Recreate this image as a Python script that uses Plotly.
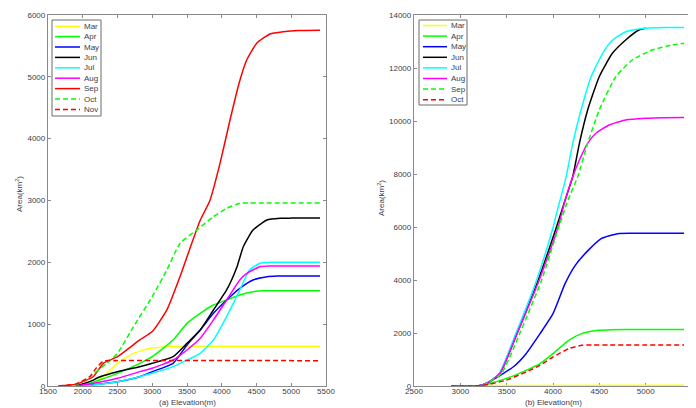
import plotly.graph_objects as go

# ---------------- data: panel (a) ----------------
months_a = ["Mar", "Apr", "May", "Jun", "Jul", "Aug", "Sep", "Oct", "Nov"]

elev_a_mar = [1900, 2100, 2200, 2344, 2500, 2730, 2970, 3210, 3400, 3600, 5414]
area_a_mar = [0, 20, 80, 205, 367, 528, 609, 636, 642, 642, 642]

elev_a_apr = [1900, 2104, 2300, 2500, 2820, 3000, 3300, 3500, 3690, 3880, 4070, 4260, 4450, 4600, 4800, 5414]
area_a_apr = [0, 43, 120, 205, 367, 474, 744, 1013, 1175, 1310, 1391, 1472, 1525, 1540, 1542, 1542]

elev_a_may = [1900, 2100, 2500, 2820, 3000, 3300, 3500, 3690, 3880, 4070, 4260, 4450, 4650, 4800, 5000, 5414]
area_a_may = [0, 16, 70, 151, 232, 367, 663, 906, 1175, 1391, 1580, 1714, 1768, 1779, 1780, 1780]

elev_a_jun = [1900, 2100, 2250, 2500, 2820, 3000, 3300, 3500, 3690, 3880, 4070, 4220, 4310, 4450, 4650, 4840, 5000, 5414]
area_a_jun = [0, 70, 150, 232, 313, 367, 474, 690, 906, 1229, 1553, 1930, 2253, 2523, 2685, 2712, 2715, 2715]

elev_a_jul = [1950, 2150, 2500, 2820, 3000, 3300, 3500, 3690, 3880, 4070, 4260, 4400, 4550, 4700, 4900, 5414]
area_a_jul = [0, 16, 70, 151, 205, 313, 420, 528, 744, 1121, 1553, 1876, 1984, 2000, 2000, 2000]

elev_a_aug = [1900, 2100, 2500, 2820, 3000, 3300, 3500, 3690, 3880, 4070, 4260, 4360, 4550, 4700, 4900, 5414]
area_a_aug = [0, 32, 124, 232, 286, 420, 582, 771, 1067, 1391, 1714, 1822, 1930, 1941, 1941, 1941]

elev_a_sep = [1650, 1900, 2150, 2300, 2500, 2820, 3000, 3210, 3400, 3500, 3690, 3830, 3975, 4119, 4250, 4359, 4503, 4694, 4886, 5100, 5414]
area_a_sep = [0, 30, 150, 370, 475, 745, 880, 1230, 1770, 2090, 2680, 3000, 3600, 4302, 4900, 5272, 5543, 5693, 5730, 5750, 5755]

elev_a_oct = [1650, 1900, 2100, 2344, 2500, 2730, 3000, 3210, 3400, 3640, 3880, 4070, 4260, 4400, 4600, 5414]
area_a_oct = [0, 20, 150, 367, 528, 960, 1445, 1876, 2307, 2523, 2739, 2873, 2954, 2960, 2960, 2960]

elev_a_nov = [1650, 1900, 2100, 2200, 2300, 2450, 5414]
area_a_nov = [0, 30, 150, 300, 405, 410, 410]

# ---------------- data: panel (b) ----------------
months_b = ["Mar", "Apr", "May", "Jun", "Jul", "Aug", "Sep", "Oct"]

elev_b_mar = [2900, 3300, 5414]
area_b_mar = [0, 20, 25]

elev_b_apr = [2900, 3200, 3310, 3490, 3710, 3860, 4000, 4170, 4310, 4490, 4630, 4800, 5414]
area_b_apr = [0, 10, 88, 277, 591, 843, 1220, 1723, 1975, 2101, 2126, 2130, 2130]

elev_b_may = [2900, 3200, 3310, 3430, 3570, 3710, 3860, 4000, 4130, 4240, 4380, 4520, 4700, 4900, 5414]
area_b_may = [0, 10, 151, 402, 717, 1220, 1975, 2730, 3862, 4553, 5119, 5560, 5749, 5760, 5760]

elev_b_jun = [2900, 3200, 3310, 3428, 3613, 3838, 4035, 4120, 4213, 4285, 4374, 4499, 4641, 4784, 4927, 4998]
area_b_jun = [0, 10, 150, 478, 1989, 3975, 5974, 6900, 7899, 9159, 10415, 11672, 12554, 13057, 13435, 13497]

elev_b_jul = [2900, 3200, 3310, 3420, 3600, 3821, 4000, 4060, 4142, 4213, 4303, 4411, 4536, 4643, 4786, 5000, 5200, 5414]
area_b_jul = [0, 10, 150, 478, 1989, 3975, 5974, 6800, 7899, 9159, 10415, 11672, 12554, 13057, 13370, 13500, 13530, 13530]

elev_b_aug = [2900, 3200, 3310, 3428, 3613, 3849, 4053, 4130, 4213, 4285, 4374, 4463, 4606, 4784, 4998, 5200, 5414]
area_b_aug = [0, 10, 150, 478, 1989, 3975, 5974, 7000, 7899, 8529, 9159, 9536, 9851, 10040, 10102, 10125, 10130]

elev_b_sep = [2900, 3200, 3310, 3446, 3642, 3875, 4060, 4160, 4267, 4374, 4499, 4677, 4855, 5070, 5284, 5414]
area_b_sep = [0, 10, 140, 478, 1989, 3975, 5974, 7000, 7899, 9159, 10415, 11672, 12302, 12680, 12868, 12931]

elev_b_oct = [2900, 3200, 3310, 3490, 3710, 3860, 4000, 4170, 4310, 4430, 4600, 5414]
area_b_oct = [0, 10, 63, 214, 528, 780, 1094, 1409, 1535, 1547, 1550, 1550]

x_ticks_a = [1500, 2000, 2500, 3000, 3500, 4000, 4500, 5000, 5500]
y_ticks_a = [0, 1000, 2000, 3000, 4000, 5000, 6000]
x_ticks_b = [2500, 3000, 3500, 4000, 4500, 5000, 5500]
y_ticks_b = [0, 2000, 4000, 6000, 8000, 10000, 12000, 14000]

# ---------------- styles ----------------
DASH = "5px,3px"
style_a = {
    "Mar": ("#ffff00", "solid"), "Apr": ("#00ff00", "solid"), "May": ("#0000ff", "solid"),
    "Jun": ("#000000", "solid"), "Jul": ("#00ffff", "solid"), "Aug": ("#ff00ff", "solid"),
    "Sep": ("#ff0000", "solid"), "Oct": ("#00ff00", DASH), "Nov": ("#ff0000", DASH),
}
style_b = {
    "Mar": ("#ffff00", "solid"), "Apr": ("#00ff00", "solid"), "May": ("#0000ff", "solid"),
    "Jun": ("#000000", "solid"), "Jul": ("#00ffff", "solid"), "Aug": ("#ff00ff", "solid"),
    "Sep": ("#00ff00", DASH), "Oct": ("#ff0000", DASH),
}

series_a = [
    (elev_a_mar, area_a_mar), (elev_a_apr, area_a_apr), (elev_a_may, area_a_may),
    (elev_a_jun, area_a_jun), (elev_a_jul, area_a_jul), (elev_a_aug, area_a_aug),
    (elev_a_sep, area_a_sep), (elev_a_oct, area_a_oct), (elev_a_nov, area_a_nov),
]
series_b = [
    (elev_b_mar, area_b_mar), (elev_b_apr, area_b_apr), (elev_b_may, area_b_may),
    (elev_b_jun, area_b_jun), (elev_b_jul, area_b_jul), (elev_b_aug, area_b_aug),
    (elev_b_sep, area_b_sep), (elev_b_oct, area_b_oct),
]

# page has an 8px body margin -> figure is 688x400 placed at (8, 8)
OFF = 8
W, H = 688, 400
FONT = "Arial, Liberation Sans, sans-serif"
TXT = "#3c3c4c"
LW = 1.5

fig = go.Figure()
for name, (x, y) in zip(months_a, series_a):
    c, d = style_a[name]
    fig.add_trace(go.Scatter(x=x, y=y, mode="lines", name=name,
                             line=dict(color=c, dash=d, width=LW, shape="spline", smoothing=0.5),
                             xaxis="x", yaxis="y", showlegend=False))
for name, (x, y) in zip(months_b, series_b):
    c, d = style_b[name]
    fig.add_trace(go.Scatter(x=x, y=y, mode="lines", name=name,
                             line=dict(color=c, dash=d, width=LW, shape="spline", smoothing=0.5),
                             xaxis="x2", yaxis="y2", showlegend=False))

def px(x):
    return (x - OFF) / W

def py(y):
    return 1 - (y - OFF) / H

ax_common = dict(showline=True, linecolor="#8a8a8a", linewidth=1.3, mirror="ticks", ticks="inside",
                 ticklen=3, tickcolor="#8a8a8a", showgrid=False, zeroline=False, layer="below traces",
                 automargin=False, tickformat="d",
                 tickfont=dict(family=FONT, size=8, color=TXT))

ydom = [py(386), py(15)]
fig.update_layout(
    width=W, height=H, margin=dict(l=0, r=0, t=0, b=0, pad=0),
    paper_bgcolor="white", plot_bgcolor="white", showlegend=False,
    xaxis=dict(domain=[px(48), px(326)], range=[1500, 5500], tickvals=x_ticks_a, anchor="y",
               ticklabelstandoff=-3, **ax_common),
    yaxis=dict(domain=ydom, range=[0, 6000], tickvals=y_ticks_a, anchor="x", **ax_common),
    xaxis2=dict(domain=[px(414), px(692)], range=[2500, 5500], tickvals=x_ticks_b, anchor="y2",
                ticklabelstandoff=-3, **ax_common),
    yaxis2=dict(domain=ydom, range=[0, 14000], tickvals=y_ticks_b, anchor="x2", **ax_common),
)

shapes = []
annotations = []

def add_legend(names, styles, box, y0, dy, sx0, sx1, tx):
    shapes.append(dict(type="rect", xref="paper", yref="paper", x0=px(box[0]), x1=px(box[1]),
                       y0=py(box[3]), y1=py(box[2]), line=dict(color="#6a6a6a", width=1),
                       fillcolor="white", layer="above"))
    for i, n in enumerate(names):
        c, d = styles[n]
        yy = y0 + i * dy
        shapes.append(dict(type="line", xref="paper", yref="paper", x0=px(sx0), x1=px(sx1),
                           y0=py(yy), y1=py(yy), line=dict(color=c, dash=d, width=LW), layer="above"))
        annotations.append(dict(text=n, xref="paper", yref="paper", x=px(tx), y=py(yy), xanchor="left",
                                yanchor="middle", showarrow=False, font=dict(family=FONT, size=8, color=TXT)))

add_legend(months_a, style_a, (52, 101, 20, 116), 26.2, 10.4, 55, 80, 82)
add_legend(months_b, style_b, (419, 467, 20, 105), 25.5, 10.6, 423, 447, 449)

annotations += [
    dict(text="(a) Elevation(m)", xref="paper", yref="paper", x=px(187), y=py(402), showarrow=False,
         xanchor="center", yanchor="middle", font=dict(family=FONT, size=8, color=TXT)),
    dict(text="(b) Elevation(m)", xref="paper", yref="paper", x=px(553), y=py(402), showarrow=False,
         xanchor="center", yanchor="middle", font=dict(family=FONT, size=8, color=TXT)),
    dict(text="Area(km<sup>2</sup>)", xref="paper", yref="paper", x=px(19), y=py(194), showarrow=False,
         textangle=-90, xanchor="center", yanchor="middle", font=dict(family=FONT, size=8, color=TXT)),
    dict(text="Area(km<sup>2</sup>)", xref="paper", yref="paper", x=px(381), y=py(198), showarrow=False,
         textangle=-90, xanchor="center", yanchor="middle", font=dict(family=FONT, size=8, color=TXT)),
]

fig.update_layout(shapes=shapes, annotations=annotations)
fig.write_html("out.html")
